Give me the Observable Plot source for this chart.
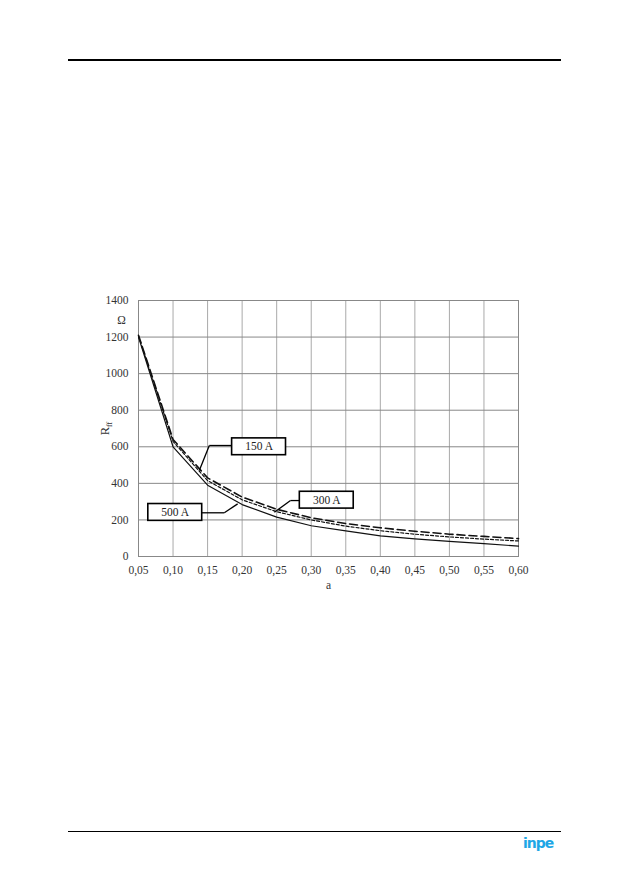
<!DOCTYPE html>
<html>
<head>
<meta charset="utf-8">
<script src="https://cdn.jsdelivr.net/npm/d3@7"></script>
<script src="https://cdn.jsdelivr.net/npm/@observablehq/plot@0.6"></script>
<style>
  html, body { margin: 0; padding: 0; background: #fff; }
  #page { position: relative; width: 629px; height: 893px; overflow: hidden; }
  .rule { position: absolute; left: 68px; width: 493px; background: #000; }
  #logo { position: absolute; left: 523px; top: 835px; font-family: "DejaVu Sans", sans-serif; font-weight: bold; font-size: 14px; color: #1ea7e6; letter-spacing: -1px; }
</style>
</head>
<body>
<div id="page">
  <div class="rule" style="top:59px;height:1.5px"></div>
  <div class="rule" style="top:831px;height:1px"></div>
  <div id="logo">inpe</div>
  <div id="chart" style="position:absolute;left:0;top:0"></div>
</div>
<script>
const aValues = [0.05, 0.10, 0.15, 0.20, 0.25, 0.30, 0.35, 0.40, 0.45, 0.50, 0.55, 0.60];
const r150 = [1210, 640, 430, 325, 258, 212, 180, 157, 138, 122, 110, 98];
const r300 = [1205, 630, 415, 310, 245, 200, 166, 141, 122, 107, 95, 85];
const r500 = [1200, 600, 390, 284, 215, 168, 140, 113, 96, 83, 70, 57];
const seriesNames = ["150 A", "300 A", "500 A"];
const seriesDash = ["8,4", "3,2", null];
const xTicks = aValues;
const yTicks = [0, 200, 400, 600, 800, 1000, 1200, 1400];

// Callout annotations (data units): box centre, box edge, elbow, end point on curve
const labels = [
  {name: "150 A", cx: 0.2245, cy: 600, x0: 0.1854, y0: 607, x1: 0.1525, y1: 607, x2: 0.138, y2: 470},
  {name: "300 A", cx: 0.3225, cy: 308, x0: 0.2834, y0: 306, x1: 0.270, y1: 306, x2: 0.2467, y2: 242},
  {name: "500 A", cx: 0.1032, cy: 241, x0: 0.1419, y0: 239, x1: 0.1742, y1: 239, x2: 0.1935, y2: 288}
];
const boxHalfW = 0.039, boxHalfH = 46;

const allSeries = [r150, r300, r500];
const rows = [];
allSeries.forEach((vals, i) => vals.forEach((v, j) => rows.push({a: aValues[j], r: v, s: seriesNames[i]})));

const fmt = d => d.toFixed(2).replace(".", ",");
const serif = "'Liberation Serif', 'Times New Roman', serif";

const segs = [];
labels.forEach(l => {
  segs.push({x1: l.x0, y1: l.y0, x2: l.x1, y2: l.y1});
  segs.push({x1: l.x1, y1: l.y1, x2: l.x2, y2: l.y2});
});

const chart = Plot.plot({
  width: 629,
  height: 893,
  marginLeft: 138,
  marginRight: 111,
  marginTop: 300,
  marginBottom: 337,
  style: {fontFamily: serif, fontSize: "11px", color: "#333", background: "transparent"},
  x: {domain: [0.05, 0.60]},
  y: {domain: [0, 1400]},
  marks: [
    Plot.gridX(xTicks, {stroke: "#aaa", strokeOpacity: 1, strokeWidth: 1}),
    Plot.gridY(yTicks, {stroke: "#888", strokeOpacity: 1, strokeWidth: 1}),
    Plot.frame({stroke: "#888"}),
    Plot.axisX({ticks: xTicks, tickFormat: fmt, tickSize: 0, tickPadding: 9, label: "a", labelAnchor: "center", labelArrow: "none", labelOffset: 32, fontFamily: serif, fontSize: 11.5}),
    Plot.axisY({ticks: yTicks, tickFormat: d => String(d), tickSize: 0, tickPadding: 10, label: "Rff", labelAnchor: "center", labelArrow: "none", labelOffset: 38, fontFamily: serif, fontSize: 11.5}),
    Plot.text(["Ω"], {x: 0.05, y: 1290, dx: -17, text: d => d, fontFamily: serif, fontSize: 11.5, fill: "#333"}),
    ...seriesNames.map((n, i) => Plot.line(rows.filter(d => d.s === n), {x: "a", y: "r", stroke: "#111", strokeWidth: i === 0 ? 1.6 : 1.2, strokeDasharray: seriesDash[i]})),
    Plot.link(segs, {x1: "x1", y1: "y1", x2: "x2", y2: "y2", stroke: "#000", strokeWidth: 1.3}),
    Plot.rect(labels, {x1: d => d.cx - boxHalfW, x2: d => d.cx + boxHalfW, y1: d => d.cy - boxHalfH, y2: d => d.cy + boxHalfH, fill: "#fff", stroke: "#000", strokeWidth: 1.6}),
    Plot.text(labels, {x: "cx", y: "cy", text: "name", fontFamily: serif, fontSize: 11.5, fill: "#222"})
  ]
});

// subscript on y label
d3.select(chart).selectAll("text").each(function() {
  const t = d3.select(this);
  if (t.text() === "Rff") {
    t.text(null);
    t.append("tspan").text("R").style("font-size", "12.5px");
    t.append("tspan").text("ff").style("font-size", "8px").attr("dy", "3");
  }
});
document.getElementById("chart").appendChild(chart);
</script>
</body>
</html>
